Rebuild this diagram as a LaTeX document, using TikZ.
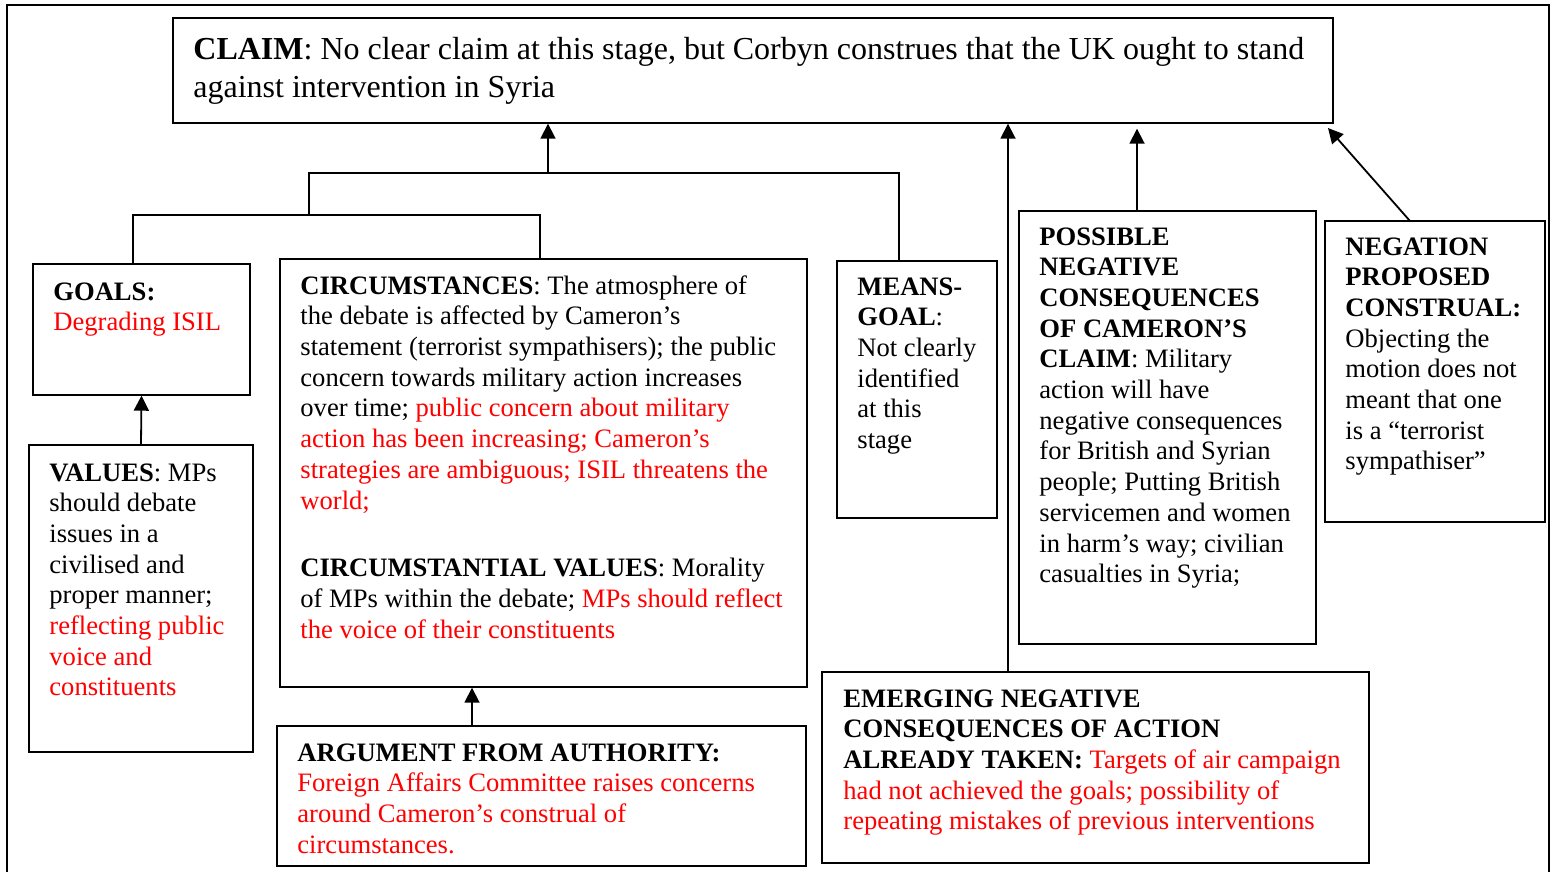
\documentclass[tikz,border=0pt]{standalone}
\usepackage{fontspec}
\setmainfont{Liberation Serif}
\usetikzlibrary{arrows.meta,fit,calc}

\begin{document}
\begin{tikzpicture}[
    x=0.5pt, y=-0.5pt,
    box/.style={draw, line width=0.7pt, inner sep=0pt},
    txt/.style={anchor=north west, inner sep=0pt, align=left, font=\fontsize{13.3}{15.35}\selectfont},
    link/.style={line width=0.9pt},
    >={Triangle[length=7.5pt,width=7.5pt]}
  ]
  \useasboundingbox (0,0) rectangle (1553,872);
  % outer frame, open at the bottom
  \draw[line width=0.6pt] (7,880) -- (7,5) -- (1549,5) -- (1549,880);

  % boxes
  \node[box, fit={(173,18) (1333,123)}] (claim) {};
  \node[box, fit={(33,264) (250,395)}] (goals) {};
  \node[box, fit={(29,445) (253,752)}] (values) {};
  \node[box, fit={(280,259) (807,687)}] (circ) {};
  \node[box, fit={(277,726) (806,866)}] (auth) {};
  \node[box, fit={(837,261) (997,518)}] (means) {};
  \node[box, fit={(1019,211) (1316,644)}] (possible) {};
  \node[box, fit={(1325,221) (1545,522)}] (negation) {};
  \node[box, fit={(822,672) (1369,863)}] (emerging) {};

  % texts
  \node[txt, font=\fontsize{16}{19}\selectfont] (claimtxt) at (193,37) {\textbf{CLAIM}: No clear claim at this stage, but Corbyn construes that the UK ought to stand\\against intervention in Syria};
  \node[txt] (goalstxt) at (53,282) {\textbf{GOALS:}\\\color{red}Degrading ISIL};
  \node[txt] (valuestxt) at (49,463) {\textbf{VALUES}: MPs\\should debate\\issues in a\\civilised and\\proper manner;\\\color{red}reflecting public\\\color{red}voice and\\\color{red}constituents};
  \node[txt] (circtxt) at (300,275) {\textbf{CIRCUMSTANCES}: The atmosphere of\\the debate is affected by Cameron’s\\statement (terrorist sympathisers); the public\\concern towards military action increases\\over time; {\color{red}public concern about military}\\\color{red}action has been increasing; Cameron’s\\\color{red}strategies are ambiguous; ISIL threatens the\\\color{red}world;\\[18.5pt]
    \textbf{CIRCUMSTANTIAL VALUES}: Morality\\of MPs within the debate; {\color{red}MPs should reflect}\\\color{red}the voice of their constituents};
  \node[txt] (authtxt) at (297,743) {\textbf{ARGUMENT FROM AUTHORITY:}\\\color{red}Foreign Affairs Committee raises concerns\\\color{red}around Cameron’s construal of\\\color{red}circumstances.};
  \node[txt] (meanstxt) at (857,277) {\textbf{MEANS-}\\\textbf{GOAL}:\\Not clearly\\identified\\at this\\stage};
  \node[txt] (possibletxt) at (1039,227) {\textbf{POSSIBLE}\\\textbf{NEGATIVE}\\\textbf{CONSEQUENCES}\\\textbf{OF CAMERON’S}\\\textbf{CLAIM}: Military\\action will have\\negative consequences\\for British and Syrian\\people; Putting British\\servicemen and women\\in harm’s way; civilian\\casualties in Syria;};
  \node[txt] (negationtxt) at (1345,237) {\textbf{NEGATION}\\\textbf{PROPOSED}\\\textbf{CONSTRUAL:}\\Objecting the\\motion does not\\meant that one\\is a “terrorist\\sympathiser”};
  \node[txt] (emergingtxt) at (843,689) {\textbf{EMERGING NEGATIVE}\\\textbf{CONSEQUENCES OF ACTION}\\\textbf{ALREADY TAKEN:} {\color{red}Targets of air campaign}\\\color{red}had not achieved the goals; possibility of\\\color{red}repeating mistakes of previous interventions};

  % joints of the tree
  \coordinate (barL) at (133,215);
  \coordinate (barJ) at (309,215);
  \coordinate (barR) at (540,215);
  \coordinate (topM) at (548,173);
  \coordinate (topR) at (899,173);
  \coordinate (xauth) at (472,0);
  \coordinate (xemerg) at (1008,0);
  \coordinate (xposs) at (1137,0);
  \coordinate (negfoot) at (1410,221);
  \coordinate (negtip) at (1328,128);

  % connectors
  \draw[link] (goals.north -| barL) |- (barR) -- (circ.north -| barR);
  \draw[link] (barJ) |- (topR) -- (means.north -| topR);
  \draw[link, ->] (topM) -- (claim.south -| topM);
  \draw[link, ->] (values.north) -- (goals.south);
  \draw[link, ->] (auth.north -| xauth) -- (circ.south -| xauth);
  \draw[link, ->] (emerging.north -| xemerg) -- (claim.south -| xemerg);
  \draw[link, ->, shorten >=2.5pt] (possible.north -| xposs) -- (claim.south -| xposs);
  \draw[link, ->] (negfoot) -- (negtip);
\end{tikzpicture}
\end{document}
